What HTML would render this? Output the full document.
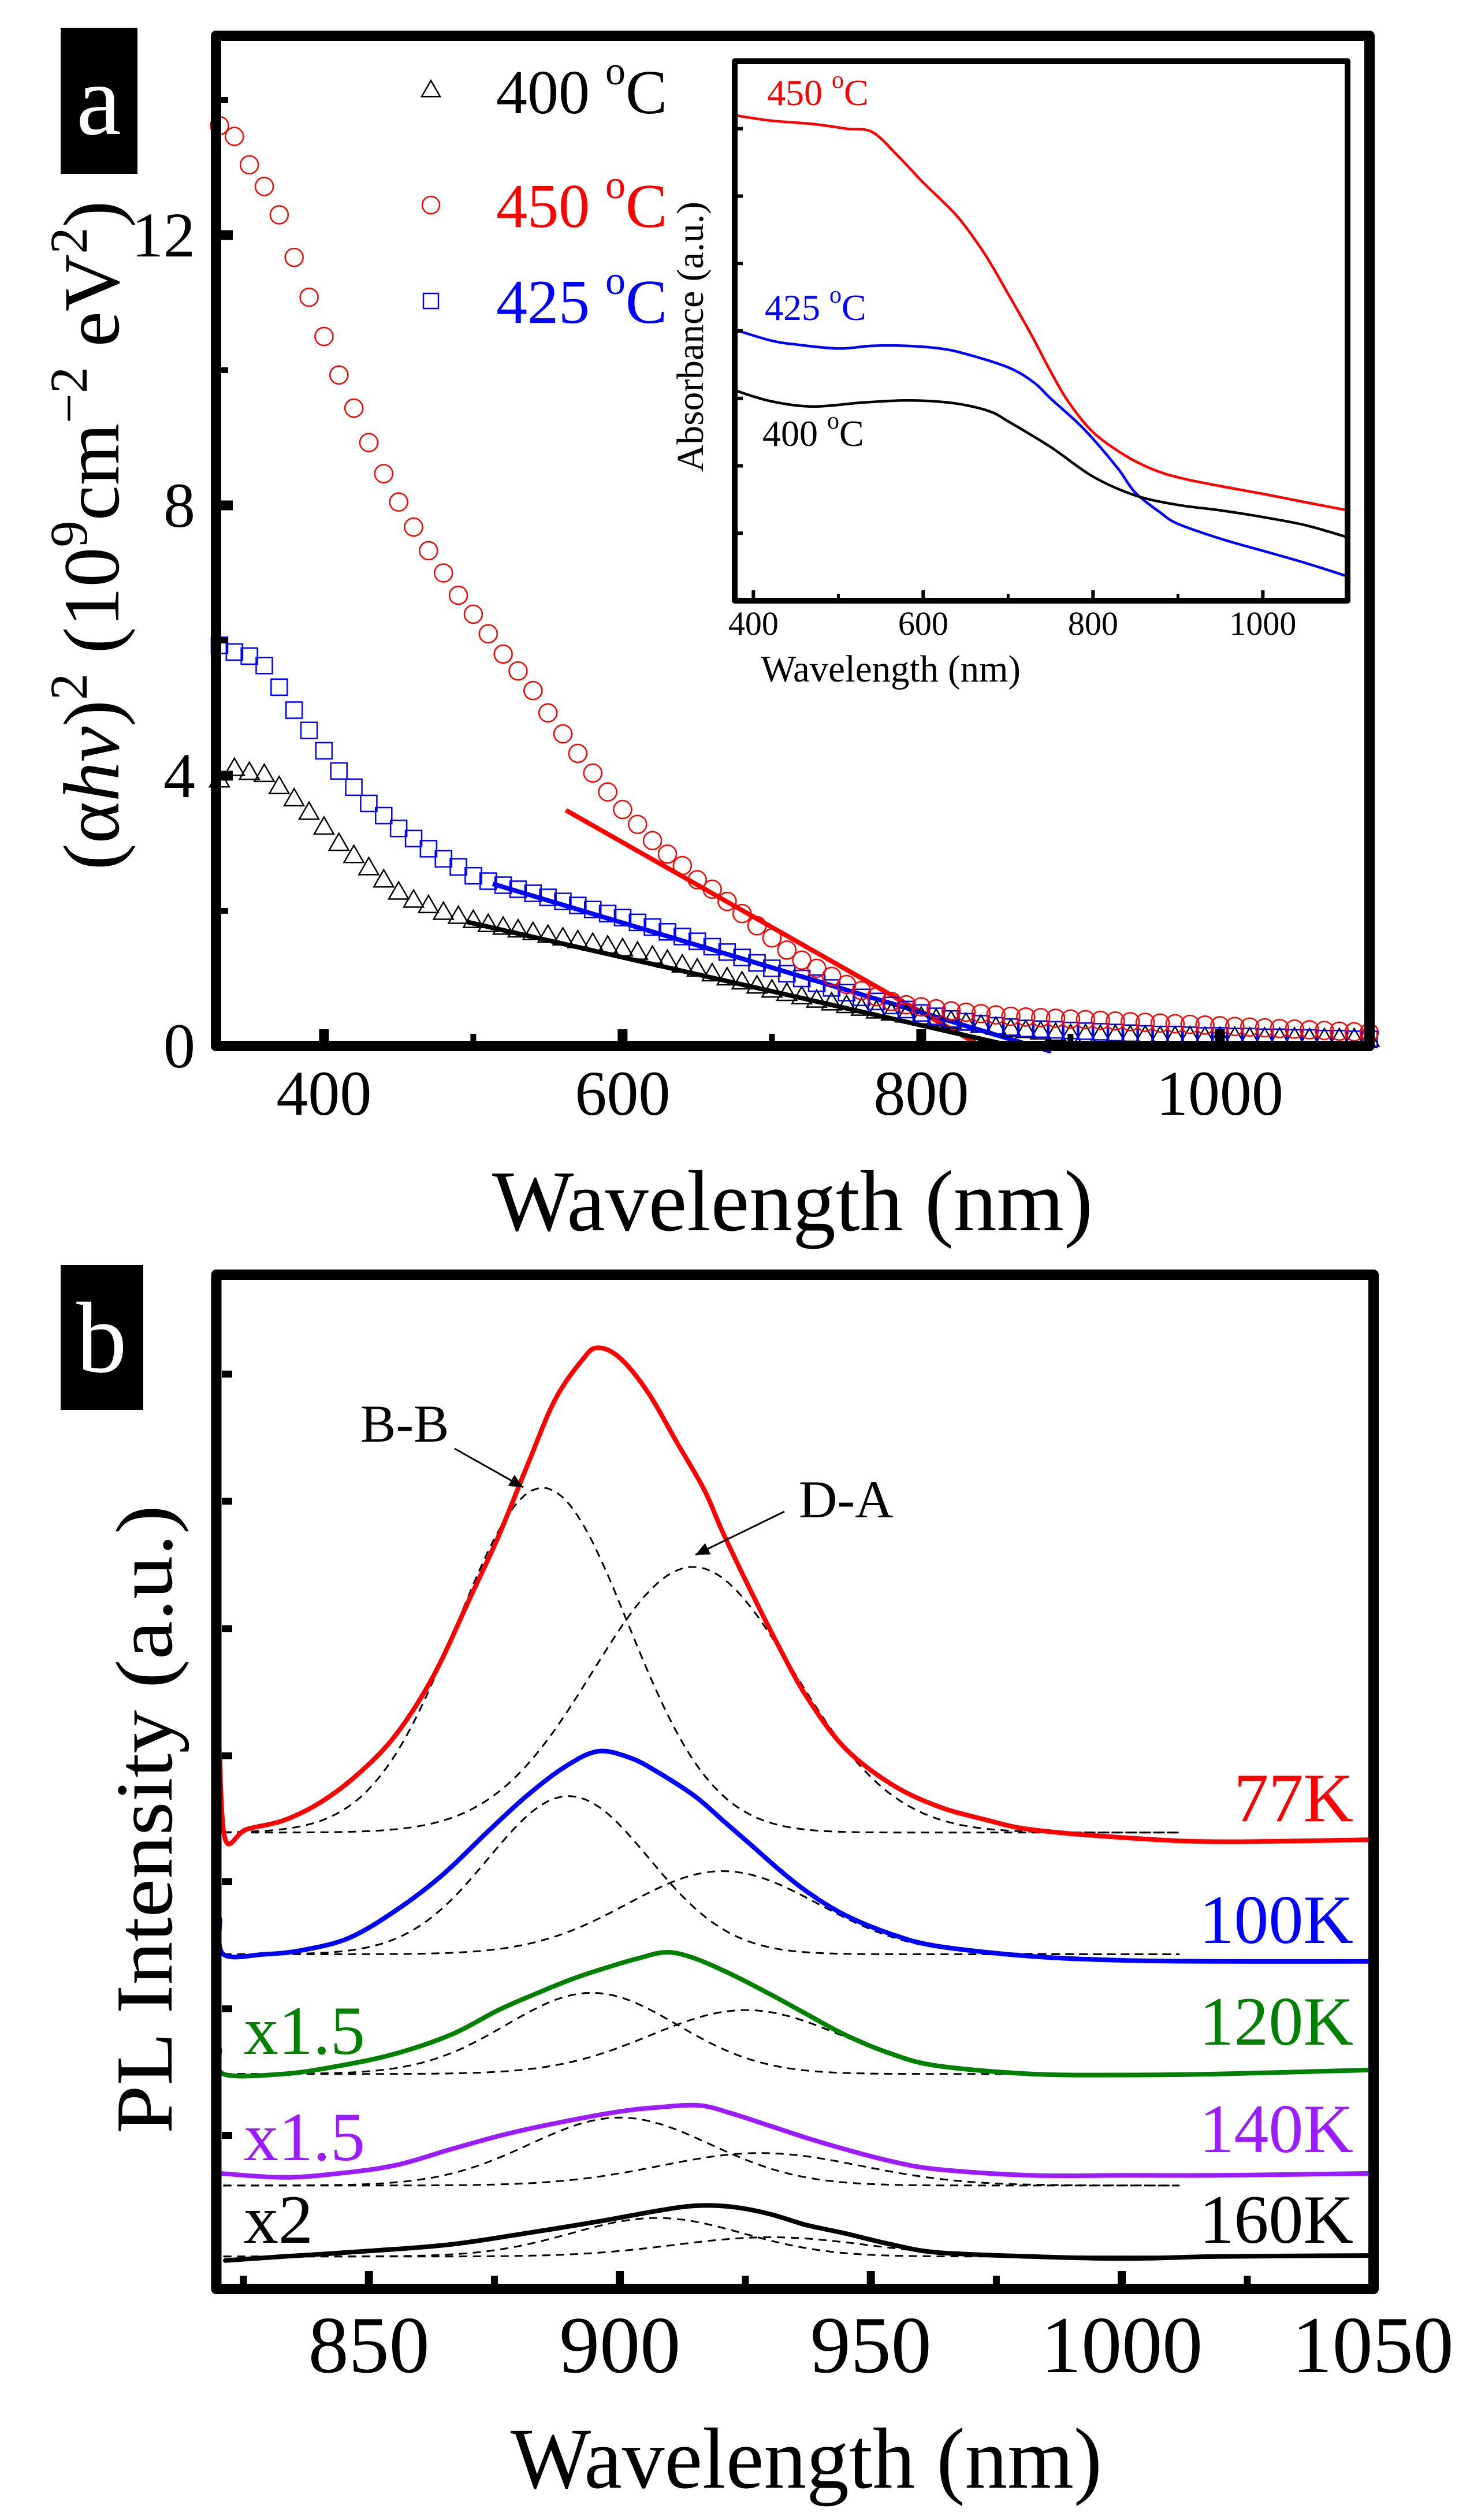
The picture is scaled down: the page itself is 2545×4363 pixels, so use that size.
<!DOCTYPE html>
<html><head><meta charset="utf-8"><style>
html,body{margin:0;padding:0;background:#fff;}
svg{display:block;}
svg text{font-family:"Liberation Serif","Times New Roman",serif;}
</style></head><body>
<svg id="fig" xmlns="http://www.w3.org/2000/svg" width="2545" height="4363" viewBox="0 0 2545 4363" font-family="Liberation Serif, serif">
<rect x="0" y="0" width="2545" height="4363" fill="#fff"/>
<g id="pa"></g>
<g id="pb"></g>
</svg>
<script>
// ---------- Panel a data ----------
const wlA = [330,340,350,360,370,380,390,400,410,420,430,440,450,460,470,480,490,500,510,520,530,540,550,560,570,580,590,600,610,620,630,640,650,660,670,680,690,700,710,720,730,740,750,760,770,780,790,800,810,820,830,840,850,860,870,880,890,900,910,920,930,940,950,960,970,980,990,1000,1010,1020,1030,1040,1050,1060,1070,1080,1090,1100];
const val450 = [13.62,13.46,13.04,12.72,12.3,11.67,11.08,10.5,9.93,9.44,8.93,8.47,8.05,7.68,7.33,7.0,6.67,6.39,6.1,5.8,5.55,5.26,4.93,4.62,4.33,4.04,3.76,3.5,3.28,3.04,2.84,2.67,2.46,2.32,2.14,1.96,1.78,1.6,1.42,1.27,1.15,1.03,0.91,0.82,0.73,0.66,0.61,0.58,0.55,0.52,0.5,0.48,0.46,0.44,0.43,0.42,0.41,0.4,0.39,0.38,0.37,0.36,0.35,0.34,0.33,0.32,0.31,0.3,0.29,0.28,0.27,0.26,0.25,0.24,0.23,0.22,0.21,0.2];
const val400 = [3.92,4.09,4.03,4.0,3.82,3.64,3.44,3.22,2.98,2.8,2.62,2.44,2.26,2.14,2.06,1.96,1.9,1.84,1.78,1.74,1.7,1.66,1.62,1.58,1.54,1.5,1.46,1.42,1.37,1.31,1.25,1.18,1.12,1.05,0.99,0.93,0.87,0.81,0.76,0.71,0.66,0.62,0.58,0.54,0.5,0.47,0.44,0.41,0.38,0.35,0.32,0.29,0.26,0.23,0.21,0.19,0.17,0.15,0.15,0.14,0.14,0.13,0.13,0.12,0.12,0.12,0.11,0.11,0.11,0.1,0.1,0.1,0.1,0.09,0.09,0.09,0.09,0.08];
const val425 = [5.93,5.83,5.77,5.63,5.31,4.97,4.67,4.37,4.07,3.83,3.59,3.41,3.22,3.07,2.92,2.77,2.65,2.52,2.44,2.38,2.32,2.26,2.2,2.14,2.08,2.02,1.96,1.9,1.83,1.76,1.69,1.62,1.55,1.47,1.39,1.31,1.23,1.15,1.07,1.0,0.93,0.86,0.79,0.72,0.66,0.6,0.54,0.49,0.44,0.4,0.36,0.33,0.3,0.28,0.26,0.25,0.24,0.23,0.22,0.21,0.2,0.19,0.18,0.17,0.17,0.16,0.15,0.15,0.14,0.14,0.13,0.13,0.12,0.12,0.11,0.11,0.1,0.1];
const fitColors = ['#ff0000','#0000ff','#000000'];
const fitX0 = [562,513,495];
const fitY0 = [3.49,2.4,1.84];
const fitX1 = [840,887,861];
const fitY1 = [0,-0.08,0];
const xTicksA = [400,600,800,1000];
const xMinorA = [500,700,900];
const yTicksA = [0,4,8,12];
const yMinorA = [2,6,10,14];
// inset data
const insWl450 = [378,420,470,510,540,570,600,640,672,700,727,750,771,800,837,870,903,950,1002,1050,1100];
const insV450 = [7.2,7.12,7.07,7.0,6.95,6.6,6.2,5.7,5.15,4.55,3.95,3.4,2.95,2.5,2.16,1.95,1.82,1.7,1.58,1.46,1.34];
const insWl425 = [378,420,450,500,540,580,620,650,700,730,750,780,800,830,850,880,900,950,1000,1050,1100];
const insV425 = [4.02,3.86,3.8,3.74,3.78,3.78,3.74,3.66,3.46,3.24,3.0,2.66,2.4,1.95,1.6,1.3,1.14,0.92,0.74,0.56,0.36];
const insWl400 = [378,420,470,530,580,620,650,680,700,750,800,850,900,950,1000,1050,1100];
const insV400 = [3.12,2.96,2.88,2.94,2.97,2.95,2.9,2.8,2.66,2.28,1.84,1.56,1.42,1.34,1.24,1.12,0.94];
const insXTicks = [400,600,800,1000];
const insXMinor = [500,700,900];
const insYTicks = [1,2,3,4,5,6,7];

// ---------- Panel b data ----------
const wl77 = [820.2,821.4,825.5,833,840.4,847.9,855.3,862.8,870.2,875.8,881.4,887,892.5,895.5,900,905.6,911.2,916.8,920.5,926.1,931.6,937.2,944.7,954,963.3,972.6,981.9,1000.5,1019.2,1049.9];
const pl77 = [53.0,44.3,45.3,46.2,48.0,50.8,54.6,60.4,68.2,74.2,81.0,87.6,91.6,92.8,91.8,88.4,83.6,78.8,74.6,68.8,63.4,58.4,53.4,49.8,47.6,46.3,45.3,44.5,44.1,44.3];
const wl100 = [820.3,821.0,829.2,836.7,846.0,855.3,864.6,873.9,881.4,888.8,895.5,901.9,907.4,914.9,920.5,926.1,931.6,937.2,944.7,954.0,963.3,981.9,1000.5,1019.2,1049.9];
const pl100 = [36.5,33.0,33.0,33.4,34.6,37.3,40.8,45.2,48.6,51.4,53.0,52.4,51.0,48.6,46.2,43.8,41.4,39.2,36.9,35.0,33.8,32.8,32.4,32.3,32.3];
const wl120 = [820.3,821.0,833.0,844.1,855.3,866.5,875.8,883.2,890.7,898.1,903.7,909.3,914.9,922.3,929.8,937.2,944.7,954.0,963.3,981.9,1000.5,1019.2,1049.9];
const pl120 = [23.6,21.2,21.2,22.0,23.2,25.1,27.5,29.1,30.6,31.8,32.6,33.2,32.6,31.0,29.1,27.1,25.1,23.2,22.0,21.2,21.1,21.2,21.6];
const wl140 = [820.3,833.0,844.1,855.3,866.5,877.6,888.8,900.0,907.4,915.8,922.3,929.8,937.2,944.7,954.0,963.3,981.9,1000.5,1019.2,1049.9];
const pl140 = [11.4,11.0,11.4,12.2,13.8,15.3,16.5,17.5,17.9,18.1,17.3,16.1,14.9,13.8,12.6,11.8,11.2,11.2,11.2,11.4];
const wl160 = [821.4,833.0,851.6,866.5,881.4,896.3,907.4,914.9,922.3,929.8,937.2,944.7,954.0,963.3,981.9,1000.5,1019.2,1049];
const pl160 = [2.8,3.2,3.8,4.4,5.5,6.7,7.7,8.2,8.1,7.4,6.3,5.5,4.4,3.6,3.2,3.0,3.2,3.3];
// Gaussian fit components (per spectrum): baseline, B-B centre/amp/sigma, D-A centre/amp/sigma
const fitBase = [45,33.0,21.2,10.2,3.2];
const bbCenter = [884.6,889.8,894.4,900,907.4];
const bbAmp = [34.0,15.6,8.0,6.7,3.8];
const bbSigma = [17,16,17,18,17];
const daCenter = [914.6,920.5,925.1,928,930];
const daAmp = [26.2,8.2,6.3,3.2,1.9];
const daSigma = [20,19,19,20,19];
const plColors = ['#ff0000','#0000ff','#008000','#9b1cff','#000000'];
const plLabels = ['77K','100K','120K','140K','160K'];
const xTicksB = [850,900,950,1000,1050];
const xMinorB = [825,875,925,975,1025];
const yTickB = [2379,2599,2820,3040,3258,3478,3697];

const NS='http://www.w3.org/2000/svg';
function mk(parent,tag,attrs){const e=document.createElementNS(NS,tag);for(const k in attrs)e.setAttribute(k,attrs[k]);parent.appendChild(e);return e;}
const pa=document.getElementById('pa'), pb=document.getElementById('pb');
const FF='Liberation Serif, serif';

// smooth path (Catmull-Rom)
function smoothD(pts){
  let d='M'+pts[0][0].toFixed(1)+','+pts[0][1].toFixed(1);
  for(let i=0;i<pts.length-1;i++){
    const p0=pts[Math.max(0,i-1)],p1=pts[i],p2=pts[i+1],p3=pts[Math.min(pts.length-1,i+2)];
    const c1x=p1[0]+(p2[0]-p0[0])/6,c1y=p1[1]+(p2[1]-p0[1])/6;
    const c2x=p2[0]-(p3[0]-p1[0])/6,c2y=p2[1]-(p3[1]-p1[1])/6;
    d+='C'+c1x.toFixed(1)+','+c1y.toFixed(1)+' '+c2x.toFixed(1)+','+c2y.toFixed(1)+' '+p2[0].toFixed(1)+','+p2[1].toFixed(1);
  }
  return d;
}
function poly(g,xs,ys,fx,fy,col,w,extra,smooth){
  const pts=xs.map((x,i)=>[fx(x),fy(ys[i])]);
  let d;
  if(smooth)d=smoothD(pts);else{d='';pts.forEach((p,i)=>d+=(i?'L':'M')+p[0].toFixed(1)+','+p[1].toFixed(1));}
  return mk(g,'path',Object.assign({d:d,fill:'none',stroke:col,'stroke-width':w,'stroke-linejoin':'round','stroke-linecap':'round'},extra||{}));
}

// ===== Panel a =====
const ax=nm=>374+(nm-327.7)*2.585;
const ay=v=>1811-v*117;
let e=mk(pa,'rect',{x:105,y:48,width:133,height:253,fill:'#000'});


e=mk(pa,'text',{x:171,y:232,'font-size':175,fill:'#fff','text-anchor':'middle','font-family':FF});e.textContent='a';



for(let i=0;i<fitX0.length;i++){
  e=mk(pa,'line',{x1:ax(fitX0[i]),y1:ay(fitY0[i]),x2:ax(fitX1[i]),y2:ay(fitY1[i]),stroke:fitColors[i],'stroke-width':8});
  
  
}
function tri(g,cx,cy,s){return mk(g,'polygon',{points:`${cx},${cy-s*0.58} ${cx-s/2},${cy+s*0.29} ${cx+s/2},${cy+s*0.29}`,fill:'none',stroke:'#000','stroke-width':2.5});}
const gT=mk(pa,'g',{});
const gS=mk(pa,'g',{});
const gC=mk(pa,'g',{});
for(let i=0;i<wlA.length;i++){
  e=tri(gT,ax(wlA[i]),ay(val400[i]),34);
  
  
  e=mk(gS,'rect',{x:ax(wlA[i])-14,y:ay(val425[i])-14,width:28,height:28,fill:'none',stroke:'#0000ff','stroke-width':2.5});
  
  
  e=mk(gC,'circle',{cx:ax(wlA[i]),cy:ay(val450[i]),r:15.5,fill:'none',stroke:'#ff0000','stroke-width':2.5});
  
  
}
e=mk(pa,'rect',{x:374,y:62,width:1997,height:1749,fill:'none',stroke:'#000','stroke-width':18,'stroke-linejoin':'round'});


xTicksA.forEach(t=>{e=mk(pa,'line',{x1:ax(t),y1:1802,x2:ax(t),y2:1782,stroke:'#000','stroke-width':17});


e=mk(pa,'text',{x:ax(t),y:1930,'font-size':110,'text-anchor':'middle','font-family':FF});e.textContent=t;

});
xMinorA.forEach(t=>{e=mk(pa,'line',{x1:ax(t),y1:1802,x2:ax(t),y2:1790,stroke:'#000','stroke-width':10});

});
yTicksA.forEach(t=>{e=mk(pa,'line',{x1:383,y1:ay(t),x2:403,y2:ay(t),stroke:'#000','stroke-width':17});


e=mk(pa,'text',{x:338,y:ay(t)+37,'font-size':110,'text-anchor':'end','font-family':FF});e.textContent=t;

});
yMinorA.forEach(t=>{e=mk(pa,'line',{x1:383,y1:ay(t),x2:395,y2:ay(t),stroke:'#000','stroke-width':10});

});
e=mk(pa,'text',{x:1372,y:2130,'font-size':150,'text-anchor':'middle',textLength:1040,lengthAdjust:'spacingAndGlyphs','font-family':FF});e.textContent='Wavelength (nm)';


e=mk(pa,'text',{x:0,y:0,'font-size':138,'text-anchor':'middle','font-family':FF,transform:'translate(205,927) rotate(-90)'});
e.innerHTML='(α<tspan font-style="italic">hν</tspan>)<tspan font-size="92" dy="-55">2</tspan><tspan dy="55"> (10</tspan><tspan font-size="92" dy="-55">9</tspan><tspan dy="55">cm</tspan><tspan font-size="92" dy="-55">−2</tspan><tspan dy="55"> eV</tspan><tspan font-size="92" dy="-55">2</tspan><tspan dy="55">)</tspan>';


const legY=[196,393,559], legTxt=['400 ','450 ','425 '], legCol=['#000','#ff0000','#0000ff'];
for(let i=0;i<3;i++){
  const cy=legY[i]-38;
  if(i===0){e=tri(pa,746,cy,32);}
  else if(i===1){e=mk(pa,'circle',{cx:746,cy:cy,r:15,fill:'none',stroke:'#ff0000','stroke-width':2.5});}
  else{e=mk(pa,'rect',{x:733,y:cy-13,width:26,height:26,fill:'none',stroke:'#0000ff','stroke-width':2.5});}
  
  
  e=mk(pa,'text',{x:859,y:legY[i],'font-size':108,fill:legCol[i],'font-family':FF});
  e.innerHTML=legTxt[i]+'<tspan font-size="70" dy="-50">o</tspan><tspan dy="50">C</tspan>';
  
  
}
// inset
const ix=nm=>1272+(nm-378)*1.47;
const iy=u=>1040-u*116.75;
const gi=mk(pa,'g',{});
e=poly(gi,insWl450,insV450,ix,iy,'#ff0000',4.5,null,true);


e=poly(gi,insWl425,insV425,ix,iy,'#0000ff',4.5,null,true);


e=poly(gi,insWl400,insV400,ix,iy,'#000000',4.5,null,true);


e=mk(gi,'rect',{x:1272,y:106,width:1061,height:934,fill:'none',stroke:'#000','stroke-width':10,'stroke-linejoin':'round'});


insXTicks.forEach(t=>{e=mk(gi,'line',{x1:ix(t),y1:1035,x2:ix(t),y2:1022,stroke:'#000','stroke-width':6});


e=mk(gi,'text',{x:ix(t),y:1099,'font-size':58,'text-anchor':'middle','font-family':FF});e.textContent=t;

});
insXMinor.forEach(t=>{e=mk(gi,'line',{x1:ix(t),y1:1035,x2:ix(t),y2:1028,stroke:'#000','stroke-width':5});

});
insYTicks.forEach(t=>{e=mk(gi,'line',{x1:1277,y1:iy(t),x2:1286,y2:iy(t),stroke:'#000','stroke-width':6});

});
e=mk(gi,'text',{x:1542,y:1180,'font-size':66,'text-anchor':'middle','font-family':FF,textLength:450,lengthAdjust:'spacingAndGlyphs'});e.textContent='Wavelength (nm)';


e=mk(gi,'text',{x:0,y:0,'font-size':66,'text-anchor':'middle','font-family':FF,textLength:468,lengthAdjust:'spacingAndGlyphs',transform:'translate(1217,583) rotate(-90)'});e.textContent='Absorbance (a.u.)';


const inLab=[['450 ','#ff0000',1328,182],['425 ','#0000ff',1324,554],['400 ','#000',1320,772]];
inLab.forEach(l=>{e=mk(gi,'text',{x:l[2],y:l[3],'font-size':64,fill:l[1],'font-family':FF});
e.innerHTML=l[0]+'<tspan font-size="42" dy="-30">o</tspan><tspan dy="30">C</tspan>';

});

// ===== Panel b =====
const bx=nm=>374.5+(nm-819.6)*8.69;
const by=v=>3963-v*17.56;
e=mk(pb,'rect',{x:105,y:2190,width:143,height:251,fill:'#000'});


e=mk(pb,'text',{x:176,y:2375,'font-size':175,fill:'#fff','text-anchor':'middle','font-family':FF});e.textContent='b';


const gauss=(x,c,a,s)=>a*Math.exp(-0.5*((x-c)/s)*((x-c)/s));
for(let k=0;k<fitBase.length;k++){
  const xs=[];for(let x=821;x<=1012;x+=1.5)xs.push(x);
  const bb=xs.map(x=>fitBase[k]+gauss(x,bbCenter[k],bbAmp[k],bbSigma[k]));
  const da=xs.map(x=>fitBase[k]+gauss(x,daCenter[k],daAmp[k],daSigma[k]));
  e=poly(pb,xs,bb,bx,by,'#000',3,{'stroke-dasharray':'14 10','stroke-linecap':'butt'});
  
  
  e=poly(pb,xs,da,bx,by,'#000',3,{'stroke-dasharray':'14 10','stroke-linecap':'butt'});
  
  
}
const plW=[wl77,wl100,wl120,wl140,wl160], plV=[pl77,pl100,pl120,pl140,pl160];
for(let k=0;k<5;k++){
  e=poly(pb,plW[k],plV[k],bx,by,plColors[k],8,null,true);
  
  
}
e=mk(pb,'rect',{x:374.5,y:2207,width:2003.5,height:1756,fill:'none',stroke:'#000','stroke-width':18,'stroke-linejoin':'round'});


xTicksB.forEach(t=>{
  if(t<1050){e=mk(pb,'line',{x1:bx(t),y1:3954,x2:bx(t),y2:3932,stroke:'#000','stroke-width':14});
  
  }
  e=mk(pb,'text',{x:bx(t),y:4107,'font-size':140,'text-anchor':'middle','font-family':FF});e.textContent=t;
  
  });
xMinorB.forEach(t=>{e=mk(pb,'line',{x1:bx(t),y1:3954,x2:bx(t),y2:3940,stroke:'#000','stroke-width':12});

});
yTickB.forEach(y=>{e=mk(pb,'line',{x1:384,y1:y,x2:402,y2:y,stroke:'#000','stroke-width':12});

});
e=mk(pb,'text',{x:1396,y:4307,'font-size':150,'text-anchor':'middle',textLength:1024,lengthAdjust:'spacingAndGlyphs','font-family':FF});e.textContent='Wavelength (nm)';


e=mk(pb,'text',{x:0,y:0,'font-size':140,'text-anchor':'middle',textLength:1088,lengthAdjust:'spacingAndGlyphs','font-family':FF,transform:'translate(297,3150) rotate(-90)'});e.textContent='PL Intensity (a.u.)';


const labY=[3153,3364,3540,3726,3883];
for(let k=0;k<5;k++){e=mk(pb,'text',{x:2343,y:labY[k],'font-size':120,fill:plColors[k],'text-anchor':'end','font-family':FF});e.textContent=plLabels[k];

}
const scTxt=['x1.5','x1.5','x2'], scCol=['#008000','#9b1cff','#000'], scY=[3556,3740,3883];
for(let k=0;k<3;k++){e=mk(pb,'text',{x:422,y:scY[k],'font-size':120,fill:scCol[k],'font-family':FF});e.textContent=scTxt[k];

}
e=mk(pb,'text',{x:624,y:2496,'font-size':92,'font-family':FF});e.textContent='B-B';


e=mk(pb,'text',{x:1383,y:2627,'font-size':92,'font-family':FF});e.textContent='D-A';


function arrow(x1,y1,x2,y2){
  const g=mk(pb,'g',{});
  mk(g,'line',{x1:x1,y1:y1,x2:x2,y2:y2,stroke:'#000','stroke-width':3});
  const a=Math.atan2(y2-y1,x2-x1),L=24,W=11;
  const bxp=x2-L*Math.cos(a),byp=y2-L*Math.sin(a);
  mk(g,'polygon',{points:`${x2},${y2} ${bxp+W*Math.sin(a)},${byp-W*Math.cos(a)} ${bxp-W*Math.sin(a)},${byp+W*Math.cos(a)}`,fill:'#000'});
  return g;
}
e=arrow(787,2508,906,2575);


e=arrow(1358,2617,1204,2692);


</script>
</body></html>
